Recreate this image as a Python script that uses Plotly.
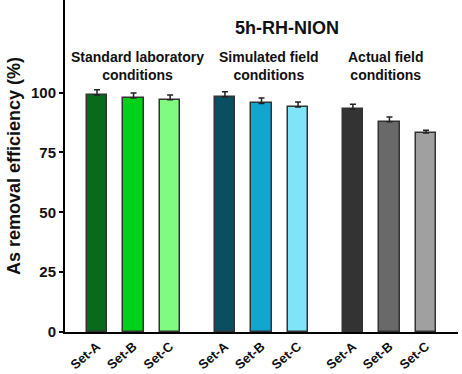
import plotly.graph_objects as go

groups = ["Standard laboratory<br>conditions", "Simulated field<br>conditions", "Actual field<br>conditions"]
sets = ["Set-A", "Set-B", "Set-C"]
values = [[99.0, 97.8, 97.0], [98.2, 95.5, 94.0], [93.1, 87.8, 83.1]]
errors = [[2.2, 2.0, 2.0], [2.2, 2.3, 2.1], [2.0, 2.0, 1.2]]
colors = [["#0a6a1c", "#02d11a", "#80fb82"],
          ["#0a4e62", "#10a6cf", "#80e4f8"],
          ["#333333", "#696969", "#a0a0a0"]]
title_text = "5h-RH-NION"
y_ticks = [0, 25, 50, 75, 100]

FONT = "Arial, Liberation Sans, sans-serif"
group_gap = 1.5

xs, ys, es, cs, labels = [], [], [], [], []
centers = []
for gi in range(len(groups)):
    base = gi * (len(sets) - 1 + group_gap)
    centers.append(base + 1)
    for si in range(len(sets)):
        xs.append(base + si)
        ys.append(values[gi][si])
        es.append(errors[gi][si])
        cs.append(colors[gi][si])
        labels.append(sets[si])

fig = go.Figure()
fig.add_trace(go.Bar(
    x=xs, y=ys, width=0.55,
    marker=dict(color=cs, line=dict(color="#333333", width=1.5)),
    error_y=dict(type="data", symmetric=False, array=es, arrayminus=[0] * len(es),
                 color="#222222", thickness=1.5, width=3),
    showlegend=False,
))

annotations = [dict(x=centers[1] + 0.7, y=127, xref="x", yref="y", text="<b>" + title_text + "</b>",
                    showarrow=False, font=dict(family=FONT, size=18, color="#111111"))]
offsets = [0.1, 0.2, -0.1]
for gi, g in enumerate(groups):
    annotations.append(dict(x=centers[gi] + offsets[gi], y=111, xref="x", yref="y", text="<b>" + g + "</b>",
                            showarrow=False, font=dict(family=FONT, size=14, color="#111111")))

fig.update_layout(
    width=462, height=374,
    margin=dict(l=65, r=4, t=0, b=42),
    plot_bgcolor="white", paper_bgcolor="white",
    bargap=0,
    annotations=annotations,
    font=dict(family=FONT, color="#111111"),
)
fig.update_xaxes(
    range=[-0.875, 9.875], tickvals=xs, ticktext=["<b>" + l + "</b>" for l in labels],
    tickangle=-40, tickfont=dict(family=FONT, size=13, color="#111111"),
    showline=True, linecolor="black", linewidth=2, ticks="", showgrid=False, zeroline=False,
)
fig.update_yaxes(
    range=[0, 138.7], tickvals=y_ticks, ticktext=["<b>%d</b>" % t for t in y_ticks],
    tickfont=dict(family=FONT, size=15, color="#111111"),
    ticks="outside", ticklen=4, tickwidth=2, tickcolor="black",
    showline=True, linecolor="black", linewidth=2, showgrid=False, zeroline=False,
    title=dict(text="<b>As removal efficiency (%)</b>", font=dict(family=FONT, size=18, color="#111111"), standoff=6),
)

fig.write_html("out.html")
